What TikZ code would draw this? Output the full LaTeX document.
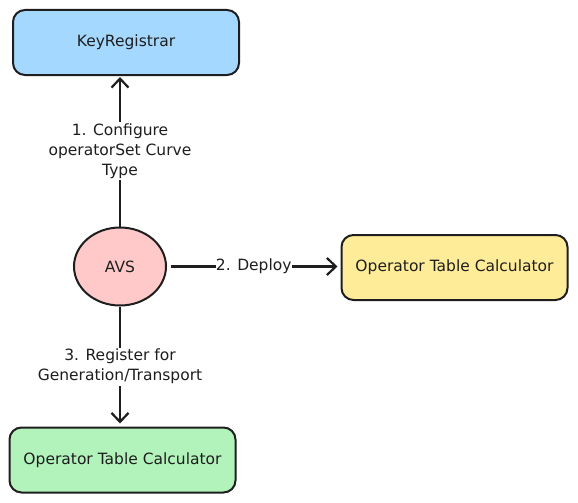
\documentclass[tikz,border=0pt]{standalone}
\usepackage{fontspec}
\setmainfont{DejaVu Sans}
\usetikzlibrary{arrows.meta}
\usetikzlibrary{positioning,shapes.geometric}
\definecolor{ink}{HTML}{1E1E1E}
\definecolor{keyblue}{HTML}{A5D8FF}
\definecolor{avspink}{HTML}{FFC9C9}
\definecolor{calcyellow}{HTML}{FFEC99}
\definecolor{calcgreen}{HTML}{B2F2BB}
\begin{document}
\begin{tikzpicture}[x=1pt,y=-1pt,
		font=\fontsize{15.5}{20}\selectfont, text=ink,
		box/.style={draw=ink, line width=2pt, rounded corners=12pt, minimum width=226pt, minimum height=65pt},
		flow/.style={draw=ink, line width=2.2pt, -{Straight Barb[length=9pt,width=17pt,line width=2.2pt]}},
		lbl/.style={fill=white, align=center, inner sep=1.5pt}]
			\useasboundingbox (0,0) rectangle (578,503);
			\node[box, fill=keyblue] (KR) at (126,42.5) {KeyRegistrar};
			\node[ellipse, draw=ink, line width=2pt, fill=avspink, minimum width=92pt, minimum height=78pt] (AVS) at (120,266.5) {AVS};
			\node[box, fill=calcyellow] (OTC-1) at (454.5,267.5) {Operator Table Calculator};
			\node[box, fill=calcgreen] (OTC-2) at (122.5,460) {Operator Table Calculator};
			% Draw the three steps
			\path (AVS.north) edge[flow, shorten >=1pt] node[lbl] {1. Configure\\operatorSet Curve\\Type} (AVS.north |- KR.south);
			\path (AVS.east) edge[flow, shorten <=4pt, shorten >=3pt] node[lbl, inner xsep=0pt] {2. Deploy} (AVS.east -| OTC-1.west);
			\path (AVS.south) edge[flow, shorten >=3pt] node[lbl] {3. Register for\\Generation/Transport} (AVS.south |- OTC-2.north);
		\end{tikzpicture}
\end{document}
